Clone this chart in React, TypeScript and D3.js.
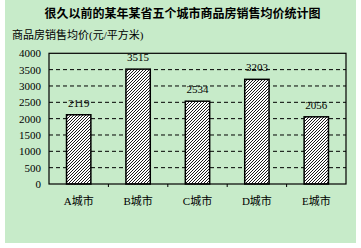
import React from "react";
import * as d3 from "d3";

const categories = ["A城市", "B城市", "C城市", "D城市", "E城市"];
const values = [2119, 3515, 2534, 3203, 2056];
const yTicks = [0, 500, 1000, 1500, 2000, 2500, 3000, 3500, 4000];
const title = "很久以前的某年某省五个城市商品房销售均价统计图";
const yLabel = "商品房销售均价(元/平方米)";

const W = 361, H = 248;
const plot = { left: 49, right: 346, top: 53.3, bottom: 184 };
const font = "'Liberation Serif', 'Noto Sans CJK SC', serif";

export default function App() {
  const x = d3.scaleBand<string>().domain(categories).range([plot.left, plot.right]).paddingInner(0).paddingOuter(0);
  const y = d3.scaleLinear().domain([0, 4000]).range([plot.bottom, plot.top]);
  const bw = x.bandwidth() * 0.41;
  return (
    <svg width={W} height={H} style={{ position: "absolute", left: 0, top: 0 }}>
      <defs>
        <pattern id="hatch" width="3" height="3" patternUnits="userSpaceOnUse">
          <rect width="3" height="3" fill="#ffffff" />
          <path d="M-1,1 L1,-1 M0,3 L3,0 M2,4 L4,2" stroke="#000" strokeWidth="0.9" />
        </pattern>
      </defs>
      <rect x={5} y={0} width={351} height={243} fill="#C7EBC9" />
      <text x={182.5} y={18} textAnchor="middle" fontSize={12} fontWeight="bold" fontFamily={font} fill="#000">{title}</text>
      <text x={12} y={39} fontSize={11} fontFamily={font} fill="#000">{yLabel}</text>
      {yTicks.filter(t => t > 0 && t < 4000).map(t => (
        <line key={t} x1={plot.left} x2={plot.right} y1={y(t)} y2={y(t)} stroke="#000" strokeWidth={1} strokeDasharray="4,3" />
      ))}
      {yTicks.map(t => (
        <text key={t} x={41} y={y(t) + 4} textAnchor="end" fontSize={11} fontFamily={font} fill="#000">{t}</text>
      ))}
      {categories.map((c, i) => {
        const cx = (x(c) as number) + x.bandwidth() / 2;
        return (
          <g key={c}>
            <rect x={cx - bw / 2} y={y(values[i])} width={bw} height={plot.bottom - y(values[i])} fill="url(#hatch)" stroke="#000" strokeWidth={1.5} />
            <text x={cx} y={y(values[i]) - 8} textAnchor="middle" fontSize={11} fontFamily={font} fill="#000">{values[i]}</text>
            <text x={cx} y={205} textAnchor="middle" fontSize={11} fontFamily={font} fill="#000">{c}</text>
          </g>
        );
      })}
      {categories.slice(1).map(c => (
        <line key={c} x1={x(c) as number} x2={x(c) as number} y1={plot.bottom} y2={plot.bottom + 3} stroke="#000" strokeWidth={1} />
      ))}
      <rect x={plot.left} y={plot.top} width={plot.right - plot.left} height={plot.bottom - plot.top} fill="none" stroke="#000" strokeWidth={1.2} />
    </svg>
  );
}
